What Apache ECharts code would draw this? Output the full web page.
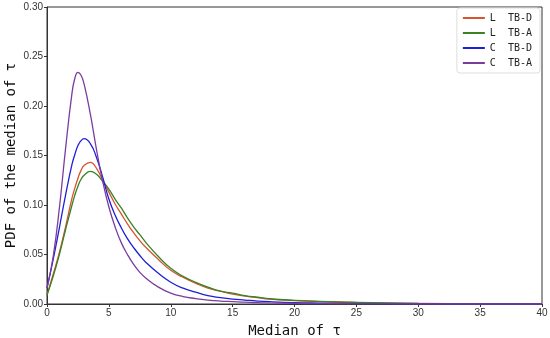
<!DOCTYPE html>
<html><head><meta charset="utf-8">
<script src="https://cdn.jsdelivr.net/npm/echarts@6/dist/echarts.min.js"></script>
<style>html,body{margin:0;padding:0;background:#fff}#c{width:550px;height:338px}</style>
</head><body><div id="c"></div>
<script>
const xs      = [0, 0.5, 1, 1.5, 2, 2.25, 2.5, 2.75, 3, 3.5, 4, 4.5, 5, 5.5, 6, 6.5, 7, 7.5, 8, 9, 10, 11, 12, 13, 14, 15, 16, 17, 18, 20, 22, 25, 30, 35, 40];
const lTBD    = [0.009, 0.030, 0.052, 0.078, 0.106, 0.117, 0.127, 0.135, 0.140, 0.143, 0.137, 0.125, 0.113, 0.101, 0.091, 0.081, 0.072, 0.064, 0.057, 0.045, 0.034, 0.027, 0.021, 0.016, 0.013, 0.010, 0.008, 0.0065, 0.005, 0.0035, 0.0025, 0.0015, 0.0006, 0.0002, 0.0001];
const lTBA    = [0.009, 0.028, 0.050, 0.075, 0.099, 0.110, 0.119, 0.126, 0.130, 0.134, 0.131, 0.124, 0.116, 0.106, 0.097, 0.087, 0.078, 0.070, 0.062, 0.048, 0.036, 0.028, 0.022, 0.017, 0.013, 0.011, 0.0085, 0.0068, 0.0053, 0.0037, 0.0026, 0.0016, 0.0006, 0.0002, 0.0001];
const cTBD    = [0.016, 0.045, 0.077, 0.110, 0.140, 0.151, 0.160, 0.165, 0.167, 0.162, 0.148, 0.128, 0.106, 0.090, 0.077, 0.066, 0.057, 0.049, 0.042, 0.031, 0.022, 0.016, 0.012, 0.0085, 0.0065, 0.005, 0.004, 0.003, 0.0023, 0.0014, 0.0009, 0.0004, 0.0001, 0.0, 0.0];
const cTBA    = [0.016, 0.048, 0.097, 0.157, 0.211, 0.228, 0.234, 0.231, 0.222, 0.192, 0.156, 0.124, 0.098, 0.078, 0.062, 0.050, 0.040, 0.032, 0.026, 0.017, 0.011, 0.0075, 0.0055, 0.004, 0.003, 0.0024, 0.0018, 0.0014, 0.0011, 0.0007, 0.0004, 0.0002, 0.0, 0.0, 0.0];
const names   = ['L  TB-D', 'L  TB-A', 'C  TB-D', 'C  TB-A'];
const colors  = ['#d6542e', '#3a8226', '#1f1fd6', '#7b3c9e'];
const values  = [lTBD, lTBA, cTBD, cTBA];

const chart = echarts.init(document.getElementById('c'));
const font = 'DejaVu Sans Mono';
chart.setOption({
  animation: false,
  grid: {left: 47, right: 8, top: 7, bottom: 34, containLabel: false, outerBoundsMode: 'none',
         show: true, borderColor: '#333', borderWidth: 1},
  legend: {
    right: 10, top: 8, orient: 'vertical', itemWidth: 22, itemHeight: 2, itemGap: 5,
    icon: 'rect',
    backgroundColor: '#fff', borderColor: '#ddd', borderWidth: 1, borderRadius: 3, padding: [5, 8, 5, 6],
    textStyle: {fontFamily: font, fontSize: 10, color: '#222'},
    data: names
  },
  xAxis: {
    type: 'value', min: 0, max: 40, interval: 5,
    name: 'Median of τ', nameLocation: 'middle', nameGap: 20, nameMoveOverlap: false,
    nameTextStyle: {fontFamily: font, fontSize: 14, color: '#111'},
    axisLine: {lineStyle: {color: '#333'}}, axisTick: {length: 3, lineStyle: {color: '#333'}},
    axisLabel: {fontFamily: 'Liberation Sans', fontSize: 10, color: '#333', margin: 4},
    splitLine: {show: false}
  },
  yAxis: {
    type: 'value', min: 0, max: 0.3, interval: 0.05,
    name: 'PDF of the median of τ', nameLocation: 'middle', nameGap: 29, nameMoveOverlap: false,
    nameTextStyle: {fontFamily: font, fontSize: 14, color: '#111'},
    axisLine: {show: true, lineStyle: {color: '#333'}}, axisTick: {show: true, length: 3, lineStyle: {color: '#333'}},
    axisLabel: {fontFamily: 'Liberation Sans', fontSize: 10, color: '#333', margin: 4, formatter: v => v.toFixed(2)},
    splitLine: {show: false}
  },
  series: names.map((n, i) => ({
    name: n, type: 'line', smooth: 0.5, showSymbol: false, color: colors[i],
    lineStyle: {width: 1.3, color: colors[i]},
    data: xs.map((x, j) => [x, values[i][j]])
  }))
});
</script></body></html>
